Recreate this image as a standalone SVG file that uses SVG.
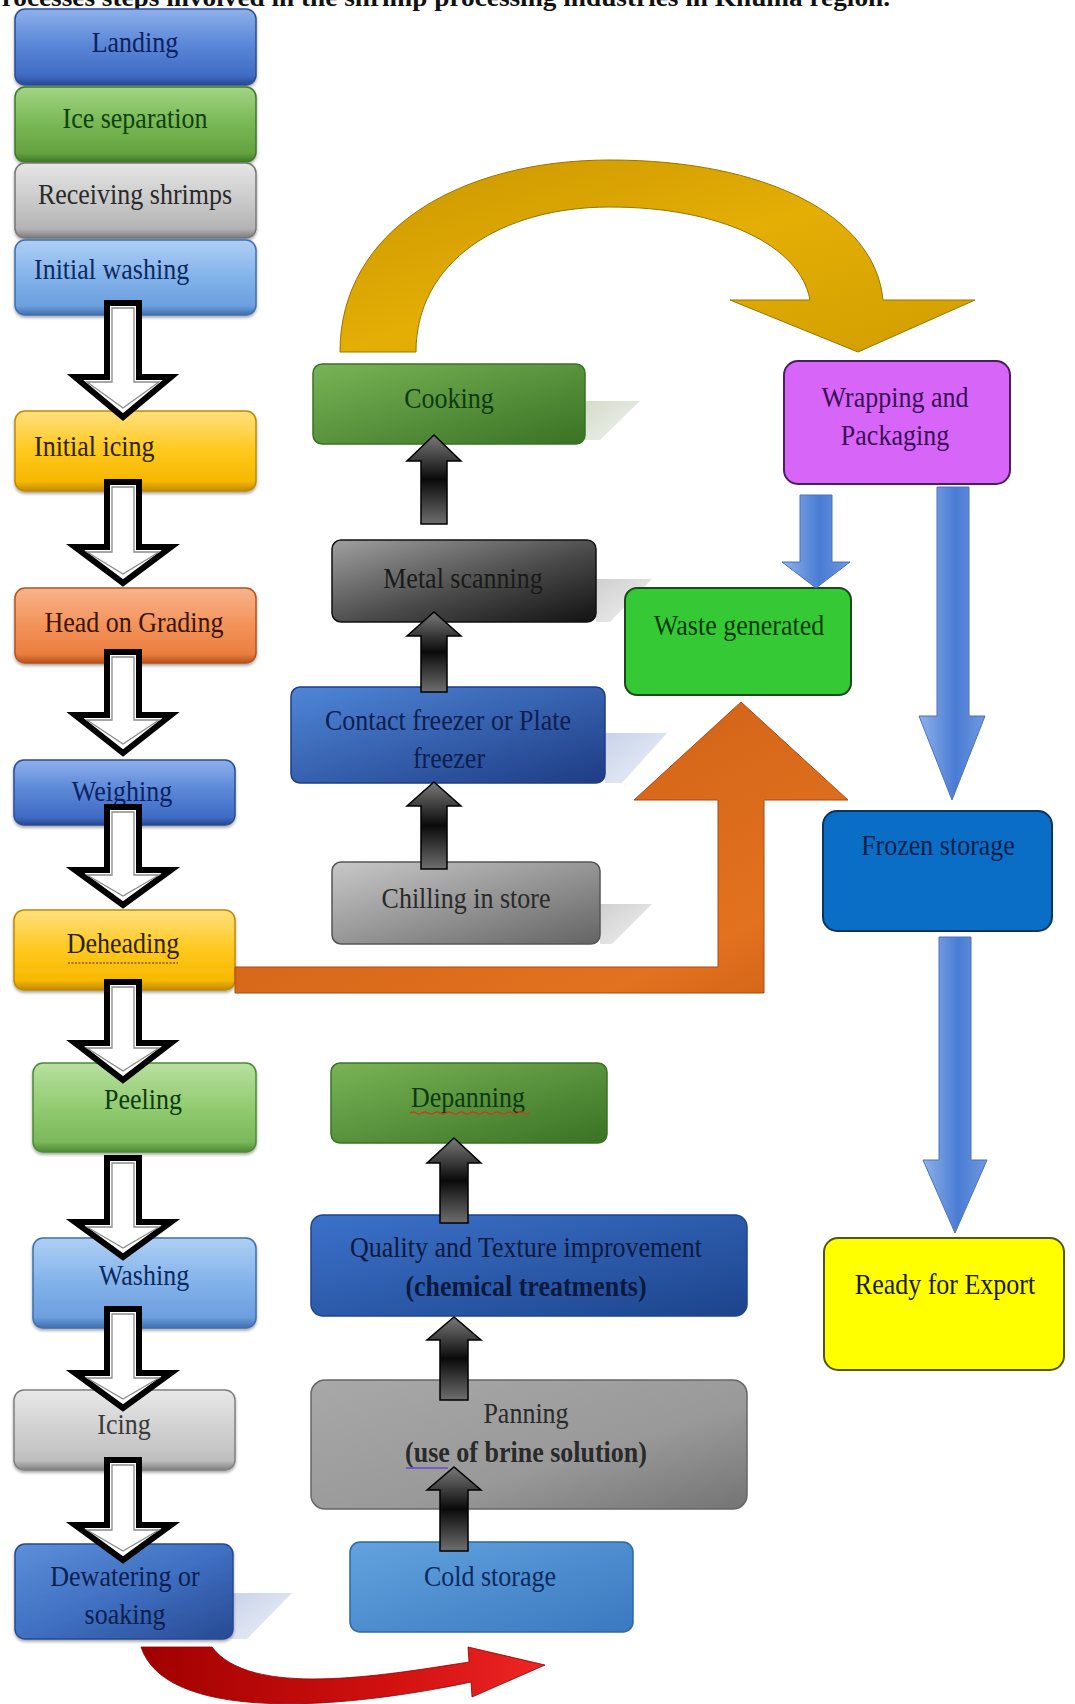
<svg xmlns="http://www.w3.org/2000/svg" width="1075" height="1704" viewBox="0 0 1075 1704">
<defs>
<style>
.t{font-family:"Liberation Serif","Times New Roman",serif;font-size:26px;text-anchor:middle}
.l{text-anchor:start}
.b{font-weight:bold}
.bx{stroke-width:1.5}
.hollow{fill:#fff;stroke:#000;stroke-width:6;stroke-linejoin:miter}
.hin{fill:none;stroke:#8a8a8a;stroke-width:1.3}
.up{fill:url(#gBlk);stroke:#000;stroke-width:1.5}
.bar{fill:url(#gBlueArr);stroke:#4a72c0;stroke-width:1}
</style>
<filter id="ds" x="-5%" y="-5%" width="110%" height="125%"><feDropShadow dx="0" dy="2" stdDeviation="1.5" flood-color="#000" flood-opacity="0.35"/></filter>
<linearGradient id="gBlue" x1="0" y1="0" x2="0" y2="1"><stop offset="0" stop-color="#8eb0ec"/><stop offset="0.45" stop-color="#5c88d8"/><stop offset="0.88" stop-color="#3f6bc4"/><stop offset="1" stop-color="#27498f"/></linearGradient>
<linearGradient id="gGreen" x1="0" y1="0" x2="0" y2="1"><stop offset="0" stop-color="#a2d484"/><stop offset="0.5" stop-color="#78b754"/><stop offset="0.88" stop-color="#64a240"/><stop offset="1" stop-color="#3f7a26"/></linearGradient>
<linearGradient id="gGray" x1="0" y1="0" x2="0" y2="1"><stop offset="0" stop-color="#e6e6e6"/><stop offset="0.5" stop-color="#cacaca"/><stop offset="0.88" stop-color="#b3b3b3"/><stop offset="1" stop-color="#7a7a7a"/></linearGradient>
<linearGradient id="gLtBlue" x1="0" y1="0" x2="0" y2="1"><stop offset="0" stop-color="#afcff4"/><stop offset="0.5" stop-color="#82b2ea"/><stop offset="0.88" stop-color="#6c9fde"/><stop offset="1" stop-color="#3f6fae"/></linearGradient>
<linearGradient id="gYellow" x1="0" y1="0" x2="0" y2="1"><stop offset="0" stop-color="#ffe07e"/><stop offset="0.5" stop-color="#ffc81c"/><stop offset="0.88" stop-color="#f6b800"/><stop offset="1" stop-color="#c08a00"/></linearGradient>
<linearGradient id="gOrange" x1="0" y1="0" x2="0" y2="1"><stop offset="0" stop-color="#f8b48e"/><stop offset="0.5" stop-color="#f39259"/><stop offset="0.88" stop-color="#ea7e3f"/><stop offset="1" stop-color="#b5531d"/></linearGradient>
<linearGradient id="gLtGreen" x1="0" y1="0" x2="0" y2="1"><stop offset="0" stop-color="#b8e0a0"/><stop offset="0.5" stop-color="#92cb70"/><stop offset="0.88" stop-color="#7cb95c"/><stop offset="1" stop-color="#4e8a34"/></linearGradient>
<linearGradient id="gLtGray" x1="0" y1="0" x2="0" y2="1"><stop offset="0" stop-color="#e8e8e8"/><stop offset="0.5" stop-color="#d0d0d0"/><stop offset="0.88" stop-color="#bfbfbf"/><stop offset="1" stop-color="#808080"/></linearGradient>
<linearGradient id="gDkBlue" x1="0" y1="0" x2="1" y2="1"><stop offset="0" stop-color="#5d8fd9"/><stop offset="0.5" stop-color="#4070c2"/><stop offset="1" stop-color="#274a92"/></linearGradient>
<linearGradient id="gCook" x1="0" y1="0" x2="1" y2="1"><stop offset="0" stop-color="#78b456"/><stop offset="1" stop-color="#3a7224"/></linearGradient>
<linearGradient id="gMetal" x1="0" y1="0" x2="1" y2="1"><stop offset="0" stop-color="#a0a0a0"/><stop offset="0.55" stop-color="#4a4a4a"/><stop offset="1" stop-color="#121212"/></linearGradient>
<linearGradient id="gContact" x1="0" y1="0" x2="1" y2="1"><stop offset="0" stop-color="#4f86d8"/><stop offset="1" stop-color="#1e3c84"/></linearGradient>
<linearGradient id="gChill" x1="0" y1="0" x2="1" y2="1"><stop offset="0" stop-color="#c8c8c8"/><stop offset="1" stop-color="#646464"/></linearGradient>
<linearGradient id="gQuality" x1="0" y1="0" x2="1" y2="1"><stop offset="0" stop-color="#3c72ca"/><stop offset="1" stop-color="#1d448c"/></linearGradient>
<linearGradient id="gPanning" x1="0" y1="0" x2="1" y2="1"><stop offset="0" stop-color="#a8a8a8"/><stop offset="0.6" stop-color="#999"/><stop offset="1" stop-color="#747474"/></linearGradient>
<linearGradient id="gCold" x1="0" y1="0" x2="1" y2="1"><stop offset="0" stop-color="#62a3de"/><stop offset="1" stop-color="#3a79c0"/></linearGradient>
<linearGradient id="gBlk" x1="0" y1="0" x2="0" y2="1"><stop offset="0" stop-color="#7a7a7a"/><stop offset="0.5" stop-color="#0a0a0a"/><stop offset="1" stop-color="#6e6e6e"/></linearGradient>
<linearGradient id="gBlueArr" x1="0" y1="0" x2="1" y2="0"><stop offset="0" stop-color="#8fb2ea"/><stop offset="0.55" stop-color="#4a7cd4"/><stop offset="1" stop-color="#6f98df"/></linearGradient>
<linearGradient id="gGold" x1="0" y1="0" x2="1" y2="1"><stop offset="0" stop-color="#c99600"/><stop offset="0.5" stop-color="#e4ae05"/><stop offset="1" stop-color="#d09e00"/></linearGradient>
<linearGradient id="gOrangeArr" x1="0" y1="0" x2="1" y2="1"><stop offset="0" stop-color="#c85a14"/><stop offset="0.8" stop-color="#e2721f"/><stop offset="1" stop-color="#cf6016"/></linearGradient>
<linearGradient id="gRed" x1="0" y1="0" x2="1" y2="0"><stop offset="0" stop-color="#a00000"/><stop offset="0.6" stop-color="#d01010"/><stop offset="1" stop-color="#ee2525"/></linearGradient>
<linearGradient id="gShd" x1="0" y1="0" x2="1" y2="1"><stop offset="0" stop-color="#cfcfcf"/><stop offset="1" stop-color="#f2f2f2"/></linearGradient>
<linearGradient id="gShdB" x1="0" y1="0" x2="1" y2="1"><stop offset="0" stop-color="#c8d2ea"/><stop offset="1" stop-color="#eef1f8"/></linearGradient>
<linearGradient id="gShdG" x1="0" y1="0" x2="1" y2="1"><stop offset="0" stop-color="#d2dccb"/><stop offset="1" stop-color="#f0f3ee"/></linearGradient>
</defs>
<rect width="1075" height="1704" fill="#fff"/>
<g id="caption">
<text class="t l b" x="-15" y="6" font-size="27" textLength="905" lengthAdjust="spacingAndGlyphs" fill="#111">Processes steps involved in the shrimp processing industries in Khulna region.</text>
</g>
<g id="shadows">
<polygon points="585,401 640,401 600,440 585,440" fill="url(#gShdG)"/>
<polygon points="596,579 652,579 610,622 596,622" fill="url(#gShd)"/>
<polygon points="605,733 667,733 622,783 605,783" fill="url(#gShdB)"/>
<polygon points="600,904 652,904 612,944 600,944" fill="url(#gShd)"/>
<polygon points="230,1593 292,1593 247,1639 230,1639" fill="url(#gShdB)"/>
</g>
<g id="nodes">
<g id="n-landing"><rect class="bx" x="15" y="9" width="241" height="76" rx="10" fill="url(#gBlue)" stroke="#2b4e95" filter="url(#ds)"/><text class="t" transform="translate(135,52) scale(1,1.17)" fill="#0c2260">Landing</text></g>
<g id="n-ice"><rect class="bx" x="15" y="87" width="241" height="75" rx="10" fill="url(#gGreen)" stroke="#3f7a26" filter="url(#ds)"/><text class="t" transform="translate(135,128) scale(1,1.17)" fill="#0f420f">Ice separation</text></g>
<g id="n-receiving"><rect class="bx" x="15" y="163" width="241" height="75" rx="10" fill="url(#gGray)" stroke="#777" filter="url(#ds)"/><text class="t" transform="translate(135,204) scale(1,1.17)" fill="#2a2a2a">Receiving shrimps</text></g>
<g id="n-initwash"><rect class="bx" x="15" y="240" width="241" height="75" rx="10" fill="url(#gLtBlue)" stroke="#3f6fae" filter="url(#ds)"/><text class="t l" transform="translate(34,279) scale(1,1.17)" fill="#0c2a5e">Initial washing</text></g>
<g id="n-initicing"><rect class="bx" x="15" y="411" width="241" height="80" rx="10" fill="url(#gYellow)" stroke="#c08a00" filter="url(#ds)"/><text class="t l" transform="translate(34,456) scale(1,1.17)" fill="#2e2200">Initial icing</text></g>
<g id="n-grading"><rect class="bx" x="15" y="588" width="241" height="75" rx="10" fill="url(#gOrange)" stroke="#b5531d" filter="url(#ds)"/><text class="t" transform="translate(134,632) scale(1,1.17)" fill="#3a1505">Head on Grading</text></g>
<g id="n-weighing"><rect class="bx" x="14" y="760" width="221" height="65" rx="10" fill="url(#gBlue)" stroke="#2b4e95" filter="url(#ds)"/><text class="t" transform="translate(122,801) scale(1,1.17)" fill="#0c2260">Weighing</text></g>
<g id="n-deheading"><rect class="bx" x="14" y="910" width="221" height="80" rx="10" fill="url(#gYellow)" stroke="#c08a00" filter="url(#ds)"/><text class="t" transform="translate(123,953) scale(1,1.17)" fill="#2e2200">Deheading</text><line x1="68" y1="963" x2="178" y2="963" stroke="#8a5a20" stroke-width="1.5" stroke-dasharray="2,1.5"/></g>
<g id="n-peeling"><rect class="bx" x="33" y="1063" width="223" height="89" rx="10" fill="url(#gLtGreen)" stroke="#4e8a34" filter="url(#ds)"/><text class="t" transform="translate(143,1109) scale(1,1.17)" fill="#0f3a0f">Peeling</text></g>
<g id="n-washing"><rect class="bx" x="33" y="1238" width="223" height="90" rx="10" fill="url(#gLtBlue)" stroke="#3f6fae" filter="url(#ds)"/><text class="t" transform="translate(144,1285) scale(1,1.17)" fill="#0c2a5e">Washing</text></g>
<g id="n-icing"><rect class="bx" x="14" y="1390" width="221" height="80" rx="10" fill="url(#gLtGray)" stroke="#808080" filter="url(#ds)"/><text class="t" transform="translate(124,1434) scale(1,1.17)" fill="#3a3a3a">Icing</text></g>
<g id="n-dewatering"><rect class="bx" x="15" y="1544" width="218" height="95" rx="10" fill="url(#gDkBlue)" stroke="#274a92" filter="url(#ds)"/><text class="t" transform="translate(125,1586) scale(1,1.17)" fill="#0c1f50">Dewatering or</text><text class="t" transform="translate(125,1624) scale(1,1.17)" fill="#0c1f50">soaking</text></g>
<g id="n-cooking"><rect class="bx" x="313" y="364" width="272" height="80" rx="9" fill="url(#gCook)" stroke="#3a7224"/><text class="t" transform="translate(449,408) scale(1,1.17)" fill="#0f3a0f">Cooking</text></g>
<g id="n-metal"><rect class="bx" x="332" y="540" width="264" height="82" rx="9" fill="url(#gMetal)" stroke="#111"/><text class="t" transform="translate(463,588) scale(1,1.17)" fill="#1a1a1a">Metal scanning</text></g>
<g id="n-contact"><rect class="bx" x="291" y="687" width="314" height="96" rx="9" fill="url(#gContact)" stroke="#1e3c84"/><text class="t" transform="translate(448,730) scale(1,1.17)" fill="#0c1f50">Contact freezer or Plate</text><text class="t" transform="translate(449,768) scale(1,1.17)" fill="#0c1f50">freezer</text></g>
<g id="n-chilling"><rect class="bx" x="332" y="862" width="268" height="82" rx="9" fill="url(#gChill)" stroke="#555"/><text class="t" transform="translate(466,908) scale(1,1.17)" fill="#2a2a2a">Chilling in store</text></g>
<g id="n-depanning"><rect class="bx" x="331" y="1063" width="276" height="80" rx="9" fill="url(#gCook)" stroke="#3a7224"/><text class="t" transform="translate(468,1107) scale(1,1.17)" fill="#0f3a0f">Depanning</text><path d="M410 1113 q3 -2 6 0 t6 0 t6 0 t6 0 t6 0 t6 0 t6 0 t6 0 t6 0 t6 0 t6 0 t6 0 t6 0 t6 0 t6 0 t6 0 t6 0 t6 0 t6 0 t6 0" fill="none" stroke="#d03a1a" stroke-width="1.3"/></g>
<g id="n-quality"><rect class="bx" x="311" y="1215" width="436" height="101" rx="12" fill="url(#gQuality)" stroke="#1d448c"/><text class="t" transform="translate(526,1257) scale(1,1.17)" fill="#0c1a40">Quality and Texture improvement</text><text class="t b" transform="translate(526,1296) scale(1,1.17)" fill="#0c1a40">(chemical treatments)</text></g>
<g id="n-panning"><rect class="bx" x="311" y="1380" width="436" height="129" rx="14" fill="url(#gPanning)" stroke="#666"/><text class="t" transform="translate(526,1423) scale(1,1.17)" fill="#2a2a2a">Panning</text><text class="t b" transform="translate(526,1462) scale(1,1.17)" fill="#2a2a2a">(use of brine solution)</text><line x1="406" y1="1468" x2="448" y2="1468" stroke="#6a4ad0" stroke-width="1.3"/></g>
<g id="n-cold"><rect class="bx" x="350" y="1542" width="283" height="90" rx="10" fill="url(#gCold)" stroke="#2f66a8"/><text class="t" transform="translate(490,1586) scale(1,1.17)" fill="#0c2a5e">Cold storage</text></g>
<g id="n-wrapping"><rect x="784" y="361" width="226" height="123" rx="14" fill="#d766f8" stroke="#4a1d60" stroke-width="2"/><text class="t" transform="translate(895,407) scale(1,1.17)" fill="#3a0d55">Wrapping and</text><text class="t" transform="translate(895,445) scale(1,1.17)" fill="#3a0d55">Packaging</text></g>
<g id="n-waste"><rect x="625" y="588" width="226" height="107" rx="12" fill="#35c935" stroke="#1a4a1a" stroke-width="2"/><text class="t" transform="translate(739,635) scale(1,1.17)" fill="#0c3a0c">Waste generated</text></g>
<g id="n-frozen"><rect x="823" y="811" width="229" height="120" rx="14" fill="#0a6ec6" stroke="#0a3460" stroke-width="2"/><text class="t" transform="translate(938,855) scale(1,1.17)" fill="#0a1f4a">Frozen storage</text></g>
<g id="n-ready"><rect x="824" y="1238" width="240" height="132" rx="14" fill="#ffff00" stroke="#555500" stroke-width="2"/><text class="t" transform="translate(945,1294) scale(1,1.17)" fill="#1a1a1a">Ready for Export</text></g>
</g>
<g id="connectors">
<path class="hollow" d="M107 303 L139 303 L139 377 L171 377 L123 417 L75 377 L107 377 Z"/><path class="hin" d="M112 308 L134 308 L134 382 L159 382 L123 408 L87 382 L112 382 Z"/>
<path class="hollow" d="M107 482 L139 482 L139 547 L171 547 L123 583 L75 547 L107 547 Z"/><path class="hin" d="M112 487 L134 487 L134 552 L159 552 L123 574 L87 552 L112 552 Z"/>
<path class="hollow" d="M107 652 L139 652 L139 715 L171 715 L123 753 L75 715 L107 715 Z"/><path class="hin" d="M112 657 L134 657 L134 720 L159 720 L123 744 L87 720 L112 720 Z"/>
<path class="hollow" d="M107 807 L139 807 L139 870 L171 870 L123 905 L75 870 L107 870 Z"/><path class="hin" d="M112 812 L134 812 L134 875 L159 875 L123 896 L87 875 L112 875 Z"/>
<path class="hollow" d="M107 982 L139 982 L139 1043 L171 1043 L123 1080 L75 1043 L107 1043 Z"/><path class="hin" d="M112 987 L134 987 L134 1048 L159 1048 L123 1071 L87 1048 L112 1048 Z"/>
<path class="hollow" d="M107 1158 L139 1158 L139 1222 L171 1222 L123 1257 L75 1222 L107 1222 Z"/><path class="hin" d="M112 1163 L134 1163 L134 1227 L159 1227 L123 1248 L87 1227 L112 1227 Z"/>
<path class="hollow" d="M107 1309 L139 1309 L139 1373 L171 1373 L123 1408 L75 1373 L107 1373 Z"/><path class="hin" d="M112 1314 L134 1314 L134 1378 L159 1378 L123 1399 L87 1378 L112 1378 Z"/>
<path class="hollow" d="M107 1460 L139 1460 L139 1525 L171 1525 L123 1560 L75 1525 L107 1525 Z"/><path class="hin" d="M112 1465 L134 1465 L134 1530 L159 1530 L123 1551 L87 1530 L112 1530 Z"/>
<path class="up" d="M421 524 L421 461 L407 461 L434 435 L461 461 L447 461 L447 524 Z"/>
<path class="up" d="M421 692 L421 636 L407 636 L434 612 L461 636 L447 636 L447 692 Z"/>
<path class="up" d="M421 869 L421 806 L407 806 L434 782 L461 806 L447 806 L447 869 Z"/>
<path class="up" d="M440 1223 L440 1163 L427 1163 L454 1138 L481 1163 L468 1163 L468 1223 Z"/>
<path class="up" d="M440 1400 L440 1340 L427 1340 L454 1317 L481 1340 L468 1340 L468 1400 Z"/>
<path class="up" d="M440 1551 L440 1490 L427 1490 L454 1467 L481 1490 L468 1490 L468 1551 Z"/>
<path id="e-cook-wrap" d="M340 352 C340 230 460 160 610 160 C765 160 875 215 883 300 L975 300 L858 352 L730 300 L810 300 C800 245 720 207 610 207 C500 207 416 262 416 352 Z" fill="url(#gGold)" stroke="#9a7400" stroke-width="1"/>
<path id="e-dehead-waste" d="M235 967 L718 967 L718 800 L634 800 L741 702 L848 800 L764 800 L764 993 L235 993 Z" fill="url(#gOrangeArr)" stroke="#a94a10" stroke-width="1"/>
<path id="e-wrap-waste" class="bar" d="M800 495 L832 495 L832 562 L850 562 L816 588 L782 562 L800 562 Z"/>
<path id="e-wrap-frozen" class="bar" d="M937 487 L969 487 L969 716 L985 716 L952 800 L919 716 L937 716 Z"/>
<path id="e-frozen-ready" class="bar" d="M939 937 L971 937 L971 1160 L987 1160 L955 1233 L923 1160 L939 1160 Z"/>
<path id="e-dewater-cold" d="M141 1647 C165 1720 330 1712 471 1682 L472 1697 L545 1665 L468 1647 L469 1662 C380 1676 250 1698 212 1647 Z" fill="url(#gRed)" stroke="#8a0000" stroke-width="0.8"/>
</g>
</svg>
